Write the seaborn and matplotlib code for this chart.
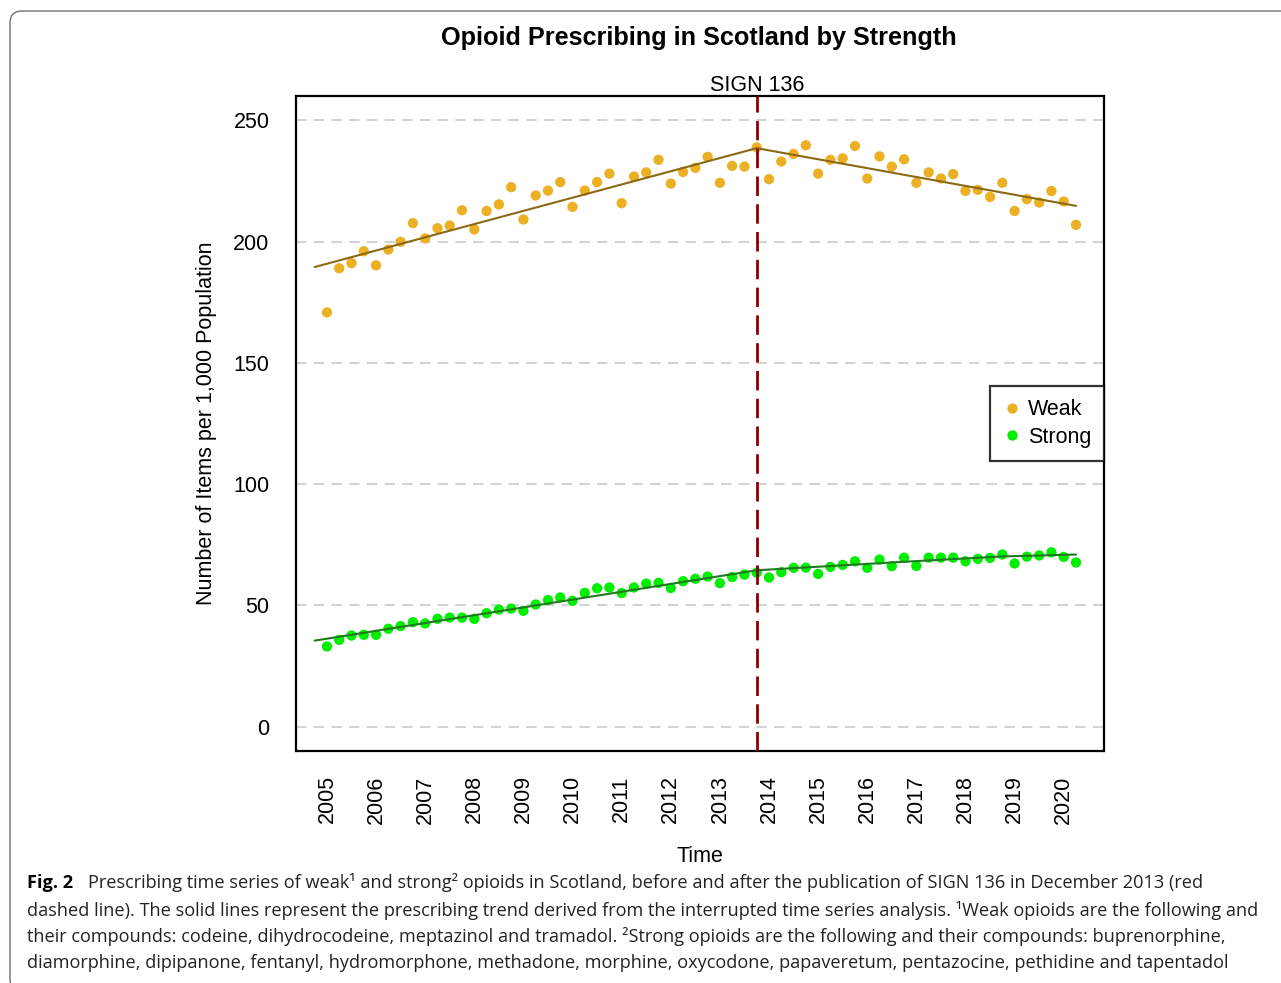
import numpy as np
import pandas as pd
import matplotlib
matplotlib.use('Agg')
import matplotlib.pyplot as plt
import matplotlib.transforms as mtransforms
from matplotlib.patches import FancyBboxPatch
import seaborn as sns

# quarterly time axis, 2005 Q1 .. 2020 Q2
time = np.arange(2005, 2020.5, 0.25)

weak = [170.8, 189.0, 191.1, 196.0, 190.2, 196.7, 199.9, 207.6, 201.3, 205.5,
        206.6, 212.9, 205.0, 212.6, 215.3, 222.4, 209.1, 219.0, 221.0, 224.5,
        214.3, 221.0, 224.5, 228.0, 215.8, 226.8, 228.5, 233.7, 223.9, 228.7,
        230.4, 234.9, 224.2, 231.2, 230.9, 238.8, 225.7, 233.0, 236.1, 239.7,
        228.0, 233.7, 234.3, 239.4, 226.0, 235.1, 230.9, 233.9, 224.2, 228.5,
        226.0, 227.8, 220.9, 221.3, 218.4, 224.2, 212.6, 217.5, 216.1, 220.8,
        216.5, 206.9]

strong = [33.1, 35.8, 37.6, 37.9, 37.9, 40.4, 41.5, 43.1, 42.6, 44.5,
          45.0, 45.0, 44.5, 46.8, 48.3, 48.7, 47.8, 50.4, 52.2, 53.3,
          51.9, 55.2, 57.1, 57.4, 55.1, 57.4, 59.0, 59.3, 57.2, 60.0,
          61.0, 61.9, 59.2, 61.7, 62.7, 63.5, 61.5, 63.7, 65.5, 65.6,
          63.0, 65.9, 66.7, 68.2, 65.5, 68.9, 66.2, 69.7, 66.3, 69.7,
          69.7, 69.7, 68.2, 69.2, 69.6, 71.0, 67.3, 70.1, 70.6, 71.9,
          70.0, 67.7]

# fitted trend from the interrupted time series model
trend_weak_t = [2004.75, 2013.75, 2013.75, 2020.25]
trend_weak_y = [189.5, 238.5, 238.5, 214.7]
trend_weak_seg = ['pre', 'pre', 'post', 'post']
trend_strong_t = [2004.75, 2013.75, 2013.75, 2016.75, 2018.75, 2020.25]
trend_strong_y = [35.5, 64.5, 64.5, 68.0, 70.2, 71.0]
trend_strong_seg = ['pre', 'pre', 'post', 'post', 'post', 'post']

sign_136 = 2013.75
years = list(range(2005, 2021))
yticks = [0, 50, 100, 150, 200, 250]

df = pd.DataFrame({
    'time': np.concatenate([time, time]),
    'value': weak + strong,
    'series': ['Weak'] * len(weak) + ['Strong'] * len(strong),
})
trend = pd.DataFrame({
    'time': trend_weak_t + trend_strong_t,
    'value': trend_weak_y + trend_strong_y,
    'series': ['Weak'] * len(trend_weak_t) + ['Strong'] * len(trend_strong_t),
    'seg': trend_weak_seg + trend_strong_seg,
})

sns.set_style('white')
plt.rcParams['font.family'] = ['Liberation Sans', 'DejaVu Sans']
plt.rcParams['text.color'] = 'black'
plt.rcParams['axes.labelcolor'] = 'black'
plt.rcParams['xtick.color'] = 'black'
plt.rcParams['ytick.color'] = 'black'

fig = plt.figure(figsize=(12.81, 9.83), dpi=100)
ax = fig.add_axes([296 / 1281, 1 - 751 / 983, 808 / 1281, 655 / 983])

# grid lines
for yv in yticks:
    ax.axhline(yv, color='#d3d3d3', lw=1.5, dashes=(5, 3.5), zorder=0)

sns.scatterplot(data=df, x='time', y='value', hue='series',
                palette={'Weak': '#ecb024', 'Strong': '#00ee00'},
                s=55, edgecolor='none', ax=ax, zorder=3)
sns.lineplot(data=trend, x='time', y='value', hue='series', units='seg',
             estimator=None, palette={'Weak': '#8b6914', 'Strong': '#1f7a1f'},
             lw=1.5, legend=False, ax=ax, zorder=4)

ax.axvline(sign_136, color='#8b0000', lw=2, dashes=(7, 3), zorder=5)
ax.annotate('SIGN 136', xy=(sign_136, 1), xycoords=ax.get_xaxis_transform(),
            xytext=(0, 3.5), textcoords='offset points',
            ha='center', va='baseline', fontsize=15.5)

ax.set_xlim(2004.37, 2020.82)
ax.set_ylim(-10, 260)
ax.set_xticks(years)
ax.set_xticklabels([str(y) for y in years], rotation=90, fontsize=15.5)
ax.set_yticks(yticks)
ax.set_yticklabels([str(y) for y in yticks], fontsize=15.5)
ax.tick_params(axis='both', direction='out', length=9, width=1.5, color='black')
ax.tick_params(axis='x', pad=8.5)
ax.tick_params(axis='y', pad=10)
for sp in ax.spines.values():
    sp.set_color('black')
    sp.set_linewidth(1.6)

ax.set_xlabel('Time', fontsize=15.5, labelpad=16)
ax.set_ylabel('Number of Items per 1,000 Population', fontsize=15.5, labelpad=12)

handles, labels = ax.get_legend_handles_labels()
leg = ax.legend(handles, labels, loc='center right', bbox_to_anchor=(1.0, 0.5),
                fontsize=15.5, frameon=True, fancybox=False, edgecolor='black',
                handletextpad=0.35, handlelength=0.8, borderpad=0.6,
                labelspacing=0.3, markerscale=1.0, borderaxespad=0)
leg.get_frame().set_linewidth(1.6)

fig.text(699 / 1281, 1 - 38 / 983, 'Opioid Prescribing in Scotland by Strength',
         ha='center', va='center', fontsize=18.2, fontweight='bold')

# caption
cap_font = ['Open Sans', 'DejaVu Sans']
cap_size = 13.05
fig.text(27 / 1281, 1 - 883 / 983, 'Fig. 2', ha='left', va='center',
         fontsize=cap_size, fontweight='bold', family=cap_font)
cap_lines = [
    (88, 883, 'Prescribing time series of weak\u00b9 and strong\u00b2 opioids in Scotland, '
              'before and after the publication of SIGN 136 in December 2013 (red'),
    (27, 910, 'dashed line). The solid lines represent the prescribing trend derived from '
              'the interrupted time series analysis. \u00b9Weak opioids are the following and'),
    (27, 937, 'their compounds: codeine, dihydrocodeine, meptazinol and tramadol. '
              '\u00b2Strong opioids are the following and their compounds: buprenorphine,'),
    (27, 963, 'diamorphine, dipipanone, fentanyl, hydromorphone, methadone, morphine, '
              'oxycodone, papaveretum, pentazocine, pethidine and tapentadol'),
]
for x, y, s in cap_lines:
    fig.text(x / 1281, 1 - y / 983, s, ha='left', va='center',
             fontsize=cap_size, family=cap_font, color='#222222')

# rounded frame around figure
frame = FancyBboxPatch((10, -8), 1290, 980, boxstyle='round,pad=0,rounding_size=12',
                       transform=mtransforms.IdentityTransform(),
                       facecolor='none', edgecolor='#707070', lw=1.0)
fig.patches.append(frame)

fig.savefig('out.png', dpi=100)
